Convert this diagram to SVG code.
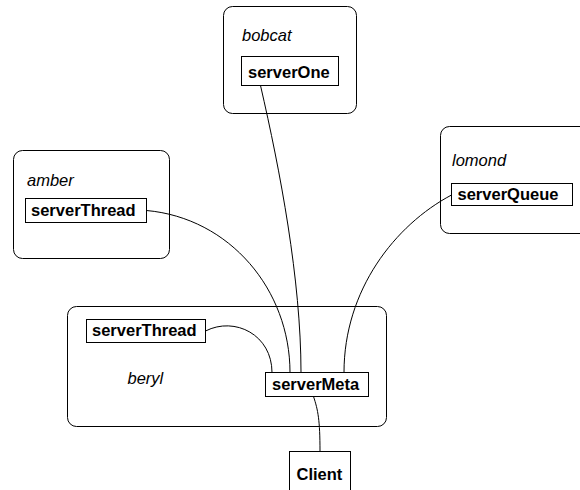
<svg xmlns="http://www.w3.org/2000/svg" width="580" height="490" viewBox="0 0 580 490">
<style>
.host{fill:#fff;stroke:#000;stroke-width:1}
.proc{fill:#fff;stroke:#000;stroke-width:1}
.hl{font-family:"Liberation Sans",Arial,sans-serif;font-style:italic;font-size:16.5px;fill:#000}
.pl{font-family:"Liberation Sans",Arial,sans-serif;font-weight:bold;font-size:16.5px;fill:#000}
.conn path{fill:none;stroke:#000;stroke-width:1}
</style>
<rect width="580" height="490" fill="#fff"/>
<g id="host-bobcat">
<rect class="host" x="223.5" y="6.5" width="133" height="107" rx="9"/>
<text class="hl" x="242" y="41">bobcat</text>
</g>
<g id="host-amber">
<rect class="host" x="13.5" y="150.5" width="156" height="108" rx="9"/>
<text class="hl" x="27" y="186">amber</text>
</g>
<g id="host-lomond">
<rect class="host" x="440.5" y="126.5" width="160" height="107" rx="9"/>
<text class="hl" x="452" y="165.5">lomond</text>
</g>
<g id="host-beryl">
<rect class="host" x="67.5" y="306.5" width="319" height="120" rx="9"/>
<text class="hl" x="127.5" y="384">beryl</text>
</g>
<g id="connectors" class="conn">
<path d="M260.5,85.5 C280,170 301,280 301,372.5"/>
<path d="M146.5,210.5 C230,218 290,290 290,372.5"/>
<path d="M451.5,195 C395,225 344,290 344,372.5"/>
<path d="M205.5,331 C235,316 272,335 272,372.5"/>
<path d="M313.5,396.5 C318,410 320,420 320,451.5"/>
</g>
<g id="proc-serverOne">
<rect class="proc" x="241.5" y="56.5" width="97" height="29"/>
<text class="pl" x="248" y="77.5">serverOne</text>
</g>
<g id="proc-serverThread-amber">
<rect class="proc" x="25.5" y="198.5" width="121" height="24"/>
<text class="pl" x="31" y="216">serverThread</text>
</g>
<g id="proc-serverQueue">
<rect class="proc" x="451.5" y="183.5" width="121" height="22"/>
<text class="pl" x="457.5" y="200">serverQueue</text>
</g>
<g id="proc-serverThread-beryl">
<rect class="proc" x="86.5" y="319.5" width="119" height="23"/>
<text class="pl" x="92" y="336">serverThread</text>
</g>
<g id="proc-serverMeta">
<rect class="proc" x="265.5" y="372.5" width="103" height="24"/>
<text class="pl" x="272" y="390">serverMeta</text>
</g>
<g id="proc-Client">
<rect class="proc" x="289.5" y="451.5" width="61" height="50"/>
<text class="pl" x="296.5" y="480">Client</text>
</g>
</svg>
